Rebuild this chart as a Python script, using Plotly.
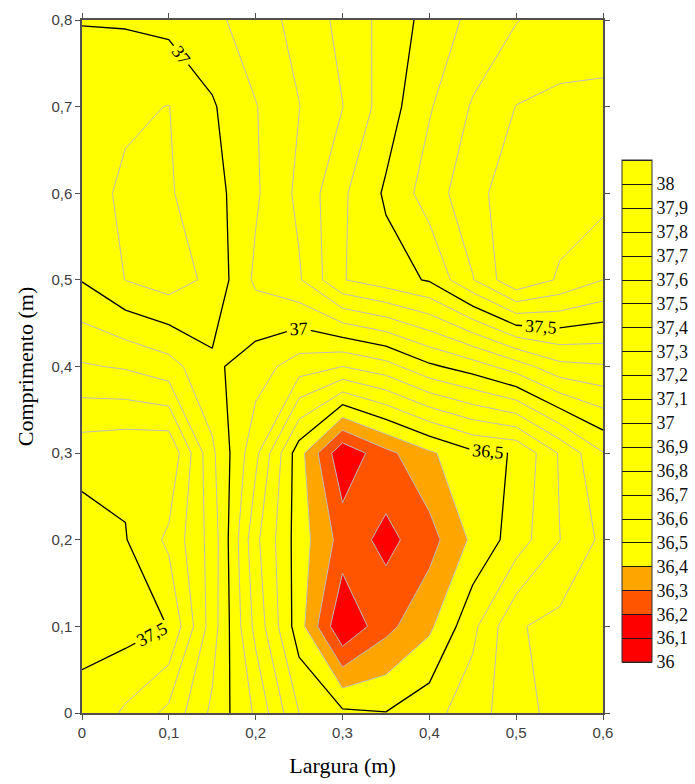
import plotly.graph_objects as go

# Grid of the survey: width (Largura) and length (Comprimento), metres
largura = [0.0, 0.05, 0.10, 0.15, 0.20, 0.25, 0.30, 0.35, 0.40, 0.45, 0.50, 0.55, 0.60]
comprimento = [0.0, 0.1, 0.2, 0.3, 0.4, 0.5, 0.6, 0.7, 0.8]

# Temperature (deg C) at each node, one list per comprimento row
temp_00 = [37.49, 37.383, 37.274, 37.079, 36.885, 36.60, 36.52, 36.503, 36.564, 36.655, 36.76, 36.835, 36.86]
temp_10 = [37.51, 37.54, 37.498, 37.15, 36.77, 36.445, 36.105, 36.27, 36.38, 36.574, 36.79, 36.83, 36.86]
temp_20 = [37.55, 37.505, 37.379, 37.16, 36.725, 36.45, 36.26, 36.17, 36.26, 36.42, 36.547, 36.698, 36.823]
temp_30 = [37.46, 37.48, 37.49, 37.12, 36.826, 36.44, 36.12, 36.27, 36.383, 36.48, 36.505, 36.71, 36.895]
temp_40 = [37.21, 37.19, 37.14, 37.02, 36.95, 36.849, 36.80, 36.86, 36.98, 37.05, 37.15, 37.27, 37.29]
temp_50 = [36.995, 36.898, 36.85, 36.925, 37.12, 37.188, 37.395, 37.455, 37.51, 37.695, 37.885, 37.786, 37.70]
temp_60 = [36.935, 36.885, 36.891, 36.958, 37.086, 37.223, 37.383, 37.515, 37.648, 37.766, 37.86, 37.85, 37.838]
temp_70 = [36.93, 36.914, 36.898, 36.989, 37.095, 37.198, 37.298, 37.449, 37.59, 37.71, 37.802, 37.818, 37.815]
temp_80 = [37.005, 37.01, 37.03, 37.07, 37.16, 37.227, 37.33, 37.434, 37.536, 37.626, 37.695, 37.75, 37.77]
temperatura = [temp_00, temp_10, temp_20, temp_30, temp_40, temp_50, temp_60, temp_70, temp_80]

# Axis ticks (decimal comma)
x_ticks = [0.0, 0.1, 0.2, 0.3, 0.4, 0.5, 0.6]
x_tick_labels = ["0", "0,1", "0,2", "0,3", "0,4", "0,5", "0,6"]
y_ticks = [0.0, 0.1, 0.2, 0.3, 0.4, 0.5, 0.6, 0.7, 0.8]
y_tick_labels = ["0", "0,1", "0,2", "0,3", "0,4", "0,5", "0,6", "0,7", "0,8"]

# Colour scale legend values and labels
legend_values = [36.0, 36.1, 36.2, 36.3, 36.4, 36.5, 36.6, 36.7, 36.8, 36.9, 37.0,
                 37.1, 37.2, 37.3, 37.4, 37.5, 37.6, 37.7, 37.8, 37.9, 38.0]
legend_labels = ["36", "36,1", "36,2", "36,3", "36,4", "36,5", "36,6", "36,7", "36,8", "36,9", "37",
                 "37,1", "37,2", "37,3", "37,4", "37,5", "37,6", "37,7", "37,8", "37,9", "38"]

# Contour levels
Z_LOW, Z_HIGH, STEP = 36.0, 38.1, 0.1
LABELLED_START, LABELLED_END, LABELLED_STEP = 36.5, 37.5, 0.5
minor_groups = [(36.1, 36.4), (36.6, 36.9), (37.1, 37.4), (37.6, 38.0)]

SANS = "Liberation Sans"
SERIF = "Liberation Serif"
AXIS_GREY = "#505050"


def frac(v):
    return (v - Z_LOW) / (Z_HIGH - Z_LOW)


band_colors = [
    [0.0, "#FF0000"], [frac(36.2), "#FF0000"],
    [frac(36.2), "#FF5500"], [frac(36.3), "#FF5500"],
    [frac(36.3), "#FFA500"], [frac(36.4), "#FFA500"],
    [frac(36.4), "#FFFF00"], [1.0, "#FFFF00"],
]

grid = dict(x=largura, y=comprimento, z=temperatura, hoverinfo="skip")

fig = go.Figure()

# Filled bands
fig.add_trace(go.Contour(
    **grid, zmin=Z_LOW, zmax=Z_HIGH, autocontour=False,
    colorscale=band_colors, showscale=False,
    contours=dict(start=Z_LOW, end=Z_HIGH, size=STEP, coloring="fill", showlines=False),
    line=dict(width=0, smoothing=0),
))

# Thin grey isolines between the labelled ones
for lo, hi in minor_groups:
    fig.add_trace(go.Contour(
        **grid, autocontour=False, showscale=False,
        contours=dict(start=lo, end=hi, size=STEP, coloring="none"),
        line=dict(color="#BDBDBD", width=1, smoothing=0),
    ))

# Labelled black isolines
fig.add_trace(go.Contour(
    **grid, autocontour=False, showscale=False,
    contours=dict(start=LABELLED_START, end=LABELLED_END, size=LABELLED_STEP,
                  coloring="none", showlabels=True,
                  labelfont=dict(family=SERIF, size=18, color="black")),
    line=dict(color="black", width=1.3, smoothing=0),
))

# Colour bar (boxed bands with dark separators)
fig.add_trace(go.Contour(
    **grid, zmin=Z_LOW, zmax=Z_HIGH, autocontour=False,
    colorscale=band_colors, opacity=0, showscale=True,
    contours=dict(start=Z_LOW, end=Z_HIGH, size=STEP, coloring="fill", showlines=True),
    line=dict(color="#1a1a1a", width=1, smoothing=0),
    colorbar=dict(
        x=(622 - 82) / 521, xanchor="left", xpad=0,
        y=(713 - 411) / 693, yanchor="middle", ypad=0,
        thickness=30, thicknessmode="pixels",
        len=502, lenmode="pixels",
        outlinewidth=1, outlinecolor="#333333",
        tickmode="array", tickvals=legend_values, ticktext=legend_labels,
        ticks="", ticklen=0,
        tickfont=dict(family=SERIF, size=18, color="#111111"),
    ),
))

axis_common = dict(
    showgrid=False, zeroline=False,
    showline=True, linecolor=AXIS_GREY, linewidth=1.5, mirror="ticks",
    ticks="outside", ticklen=5, tickwidth=1, tickcolor=AXIS_GREY,
    tickfont=dict(family=SANS, size=15, color="#404040"),
    tickmode="array",
)

fig.update_layout(
    width=695, height=784,
    margin=dict(l=82, r=92, t=20, b=71, pad=0, autoexpand=False),
    paper_bgcolor="white", plot_bgcolor="white",
    separators=", ",
    showlegend=False,
    xaxis=dict(**axis_common, range=[0, 0.6], tickvals=x_ticks, ticktext=x_tick_labels,
               title=dict(text="Largura (m)", font=dict(family=SERIF, size=22, color="black"),
                          standoff=18)),
    yaxis=dict(**axis_common, range=[0, 0.8], tickvals=y_ticks, ticktext=y_tick_labels,
               title=dict(text="Comprimento (m)", font=dict(family=SERIF, size=22, color="black"),
                          standoff=12)),
)

fig.write_html("out.html")
